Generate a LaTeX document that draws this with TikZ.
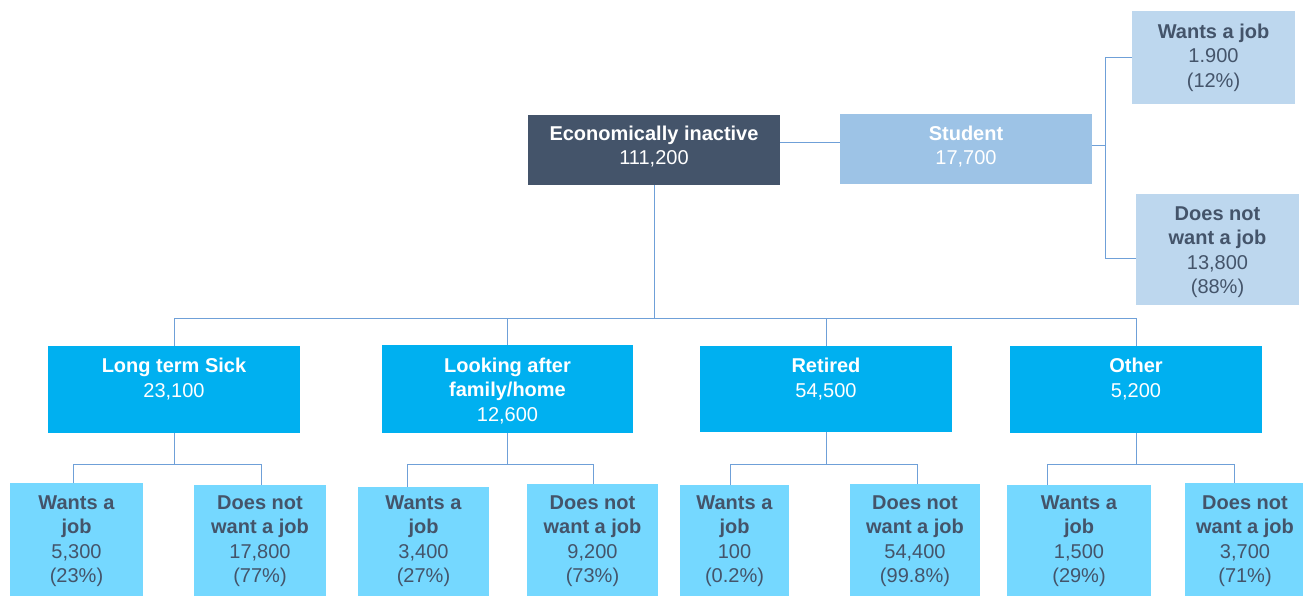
\documentclass[tikz,border=0pt]{standalone}
\usepackage{fontspec}
\setmainfont{Liberation Sans}
\definecolor{cdark}{HTML}{44546A}
\definecolor{cstu}{HTML}{9DC3E6}
\definecolor{cstuc}{HTML}{BDD7EE}
\definecolor{clev2}{HTML}{00B0F0}
\definecolor{clev3}{HTML}{75D8FF}
\definecolor{cline}{HTML}{6FA0D8}
\tikzset{
  boxbase/.style={rectangle, inner sep=0pt, outer sep=0pt, draw=none},
  rootbox/.style={boxbase, fill=cdark},
  stubox/.style={boxbase, fill=cstu},
  stucbox/.style={boxbase, fill=cstuc},
  levtwo/.style={boxbase, fill=clev2},
  levthree/.style={boxbase, fill=clev3},
  txt/.style={inner sep=0pt, align=center, font=\fontsize{20}{24.5}\selectfont},
  conn/.style={draw=cline, line width=1pt}
}
% name, x1, y1, x2, y2, box style, text colour, text top, text
\newcommand\bx[9]{%
  \node[#6, minimum width={#4-#2}, minimum height={#5-#3}] (#1) at ({(#2+#4)/2},{(#3+#5)/2}) {};
  \node[txt, text=#7, anchor=north] (#1t) at ({(#2+#4)/2},{#8}) {#9};
}
\begin{document}
\begin{tikzpicture}[x=1pt,y=-1pt]
\useasboundingbox (0,0) rectangle (1303,596);
\fill[white] (0,0) rectangle (1303,596);
% boxes
\bx{root}{528}{115}{780}{185}{rootbox}{white}{125.5}{\textbf{Economically inactive}\\111,200}
\bx{stu}{840}{114}{1092}{184}{stubox}{white}{125.5}{\textbf{Student}\\17,700}
\bx{swj}{1132}{11}{1295}{104}{stucbox}{cdark}{23.5}{\textbf{Wants a job}\\1.900\\(12\%)}
\bx{sdj}{1136}{194}{1299}{305}{stucbox}{cdark}{206.5}{\textbf{Does not}\\\textbf{want a job}\\13,800\\(88\%)}
\bx{lts}{48}{346}{300}{433}{levtwo}{white}{358}{\textbf{Long term Sick}\\23,100}
\bx{laf}{382}{345}{633}{433}{levtwo}{white}{357.5}{\textbf{Looking after}\\\textbf{family/home}\\12,600}
\bx{ret}{700}{346}{952}{432}{levtwo}{white}{358}{\textbf{Retired}\\54,500}
\bx{oth}{1010}{346}{1262}{433}{levtwo}{white}{358}{\textbf{Other}\\5,200}
\bx{aone}{10}{483}{143}{596}{levthree}{cdark}{495.5}{\textbf{Wants a}\\\textbf{job}\\5,300\\(23\%)}
\bx{bone}{194}{485}{326}{596}{levthree}{cdark}{495.5}{\textbf{Does not}\\\textbf{want a job}\\17,800\\(77\%)}
\bx{atwo}{358}{487}{489}{596}{levthree}{cdark}{495.5}{\textbf{Wants a}\\\textbf{job}\\3,400\\(27\%)}
\bx{btwo}{527}{484}{658}{596}{levthree}{cdark}{495.5}{\textbf{Does not}\\\textbf{want a job}\\9,200\\(73\%)}
\bx{athree}{680}{485}{789}{596}{levthree}{cdark}{495.5}{\textbf{Wants a}\\\textbf{job}\\100\\(0.2\%)}
\bx{bthree}{850}{484}{980}{596}{levthree}{cdark}{495.5}{\textbf{Does not}\\\textbf{want a job}\\54,400\\(99.8\%)}
\bx{afour}{1007}{485}{1151}{596}{levthree}{cdark}{495.5}{\textbf{Wants a}\\\textbf{job}\\1,500\\(29\%)}
\bx{bfour}{1185}{483}{1305}{596}{levthree}{cdark}{495.5}{\textbf{Does not}\\\textbf{want a job}\\3,700\\(71\%)}
% connectors: root to student
\draw[conn] ([yshift=7pt]root.east) -- ([yshift=7pt]root.east -| stu.west);
% student to its children
\coordinate (sj) at (1105,146);
\draw[conn] (stu.east |- sj) -- (sj);
\draw[conn] (swj.west) -| (sj);
\draw[conn] ([yshift=-8.5pt]sdj.west) -| (sj);
% root to level 2
\coordinate (bus) at (654,318);
\draw[conn] (root.south) -- (bus);
\draw[conn] (lts.north) -- (lts.north |- bus) -- (oth.north |- bus) -- (oth.north);
\draw[conn] (laf.north) -- (laf.north |- bus);
\draw[conn] (ret.north) -- (ret.north |- bus);
% level 2 to level 3
\foreach \p/\a/\b/\xa/\xb in {lts/aone/bone/73/261, laf/atwo/btwo/407/593, ret/athree/bthree/730/917, oth/afour/bfour/1047/1234}{
  \coordinate (\p j) at (\p.south |- 0,464);
  \coordinate (\a top) at (\xa,0);
  \coordinate (\b top) at (\xb,0);
  \draw[conn] (\p.south) -- (\p j);
  \draw[conn] (\a top |- \a.north) -- (\a top |- \p j) -- (\b top |- \p j) -- (\b top |- \b.north);
}
\end{tikzpicture}
\end{document}
